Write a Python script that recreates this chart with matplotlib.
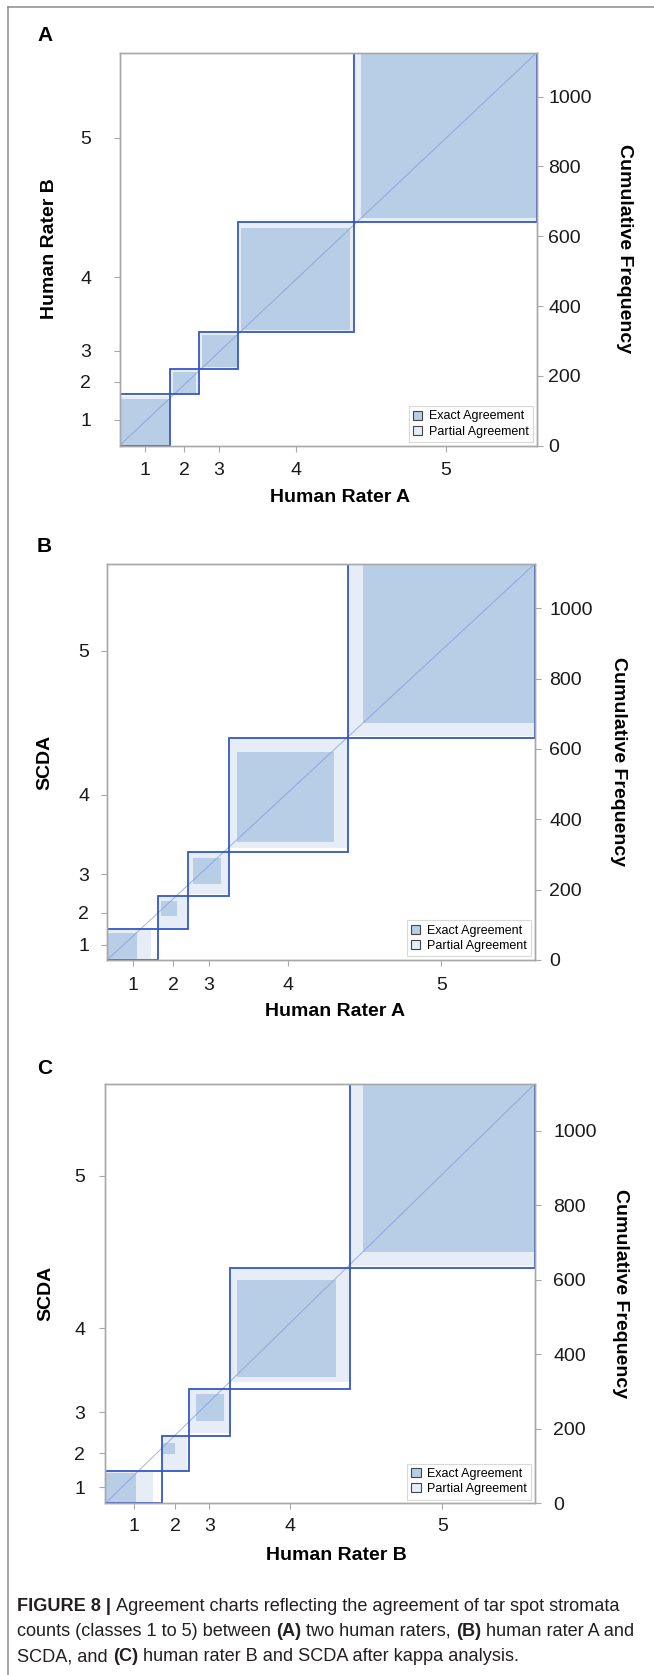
import numpy as np
import matplotlib
matplotlib.use('Agg')
import matplotlib.pyplot as plt
from matplotlib.patches import Rectangle, Patch
from matplotlib.lines import Line2D

plt.rcParams['font.family'] = ['Liberation Sans', 'DejaVu Sans']

categories = ['1', '2', '3', '4', '5']
freqTicks = [0, 200, 400, 600, 800, 1000]

# contingency tables, rows = rater on y axis, columns = rater on x axis
tableA = [[133, 10, 3, 2, 0],
          [2, 62, 7, 0, 0],
          [0, 7, 92, 6, 2],
          [0, 0, 5, 292, 17],
          [0, 0, 0, 13, 473]]
tableB = [[78, 7, 2, 0, 0],
          [38, 42, 11, 3, 0],
          [8, 28, 73, 17, 1],
          [8, 2, 18, 256, 40],
          [3, 0, 3, 37, 451]]
tableC = [[80, 3, 3, 1, 0],
          [44, 32, 16, 2, 0],
          [7, 32, 72, 15, 1],
          [13, 4, 14, 260, 33],
          [4, 0, 2, 36, 452]]

panelNames = ['A', 'B', 'C']
xLabels = ['Human Rater A', 'Human Rater A', 'Human Rater B']
yLabels = ['Human Rater B', 'SCDA', 'SCDA']

exactColor = '#B8CDE6'
partialColor = '#E6EDF7'
boxColor = '#3557C4'
diagColor = '#7F9AD8'
frameColor = '#A8A8A8'

W, H = 654, 1675
fig = plt.figure(figsize=(W / 100, H / 100), dpi=100)

# layout in pixels: axes box, label centres, tick pads
layout = [
    dict(box=(119.5, 52.7, 536.7, 445.7), xlab=(340, 498), ylab=(50, 249), rlab=(625, 249),
         letter=(37, 35.5), lpad=16, rpad=3.8, bpad=7),
    dict(box=(107.1, 564, 534.6, 960), xlab=(335, 1011.7), ylab=(44.4, 762), rlab=(619, 762),
         letter=(37, 547), lpad=8.3, rpad=6, bpad=7.4),
    dict(box=(105.4, 1083.7, 535, 1503.3), xlab=(336.5, 1555), ylab=(45.4, 1293.5), rlab=(620, 1293.5),
         letter=(37, 1068), lpad=10, rpad=8.6, bpad=5.8),
]


def fx(x):
    return x / W


def fy(y):
    return 1 - y / H


def agreementChart(ax, table):
    n = np.array(table, dtype=float)
    colTot = n.sum(axis=0)
    rowTot = n.sum(axis=1)
    N = n.sum()
    X = np.concatenate([[0], np.cumsum(colTot)])
    Y = np.concatenate([[0], np.cumsum(rowTot)])
    k = len(colTot)
    for i in range(k):
        # partial agreement = diagonal cell plus its neighbours
        lo, hi = max(i - 1, 0), min(i + 1, k - 1)
        ax.add_patch(Rectangle((X[i] + n[:lo, i].sum(), Y[i] + n[i, :lo].sum()),
                               n[lo:hi + 1, i].sum(), n[i, lo:hi + 1].sum(),
                               fc=partialColor, ec='none', zorder=1))
        # exact agreement square
        ax.add_patch(Rectangle((X[i] + n[:i, i].sum(), Y[i] + n[i, :i].sum()),
                               n[i, i], n[i, i], fc=exactColor, ec='none', zorder=1.1))
    for i in range(k):
        ax.add_patch(Rectangle((X[i], Y[i]), colTot[i], rowTot[i], fc='none',
                               ec=boxColor, lw=1.3, zorder=2))
    ax.plot([0, N], [0, N], color=diagColor, lw=0.7, alpha=0.75, zorder=1.5)
    ax.set_xlim(0, N)
    ax.set_ylim(0, N)
    ax.set_xticks((X[:-1] + X[1:]) / 2)
    ax.set_xticklabels(categories)
    ax.set_yticks((Y[:-1] + Y[1:]) / 2)
    ax.set_yticklabels(categories)
    return N


tables = [tableA, tableB, tableC]
for p in range(3):
    L = layout[p]
    l, t, r, b = L['box']
    ax = fig.add_axes([fx(l), fy(b), (r - l) / W, (b - t) / H])
    N = agreementChart(ax, tables[p])
    for s in ax.spines.values():
        s.set_color(frameColor)
        s.set_linewidth(1.0)
        s.set_zorder(3)
    ax.tick_params(axis='both', colors=frameColor, labelcolor='#1a1a1a', labelsize=14,
                   length=4.5, width=0.8)
    ax.tick_params(axis='y', pad=L['lpad'])
    ax.tick_params(axis='x', pad=L['bpad'])

    ax2 = ax.twinx()
    ax2.set_ylim(0, N)
    ax2.set_yticks(freqTicks)
    for s in ax2.spines.values():
        s.set_color(frameColor)
        s.set_linewidth(1.0)
    ax2.tick_params(axis='y', colors=frameColor, labelcolor='#1a1a1a', labelsize=14,
                    length=4.5, width=0.8, pad=L['rpad'])

    handles = [Patch(fc=exactColor, ec='#444444', lw=0.8, label='Exact Agreement'),
               Patch(fc=partialColor, ec='#444444', lw=0.8, label='Partial Agreement')]
    leg = ax2.legend(handles=handles, loc='lower right', fontsize=9, frameon=True,
                     fancybox=False, edgecolor='#D0D0D0', handlelength=0.75, handleheight=0.75,
                     handletextpad=0.5, borderpad=0.35, labelspacing=0.25, borderaxespad=0.3)
    leg.get_frame().set_linewidth(0.8)

    fig.text(fx(L['xlab'][0]), fy(L['xlab'][1]), xLabels[p], fontsize=14, fontweight='bold',
             ha='center', va='center')
    fig.text(fx(L['ylab'][0]), fy(L['ylab'][1]), yLabels[p], fontsize=14, fontweight='bold',
             ha='center', va='center', rotation=90)
    fig.text(fx(L['rlab'][0]), fy(L['rlab'][1]), 'Cumulative Frequency', fontsize=14,
             fontweight='bold', ha='center', va='center', rotation=270)
    fig.text(fx(L['letter'][0]), fy(L['letter'][1]), panelNames[p], fontsize=15,
             fontweight='bold', ha='left', va='center')

# outer border (top and left)
fig.add_artist(Line2D([fx(7.5), 1], [fy(6.5), fy(6.5)], color='#8C8C8C', lw=1.1))
fig.add_artist(Line2D([fx(7.5), fx(7.5)], [0, fy(6.5)], color='#8C8C8C', lw=1.1))

# caption with bold parts
captionLines = [
    [('FIGURE 8 |', True), ('Agreement charts reflecting the agreement of tar spot stromata', False)],
    [('counts (classes 1 to 5) between', False), ('(A)', True), ('two human raters,', False),
     ('(B)', True), ('human rater A and', False)],
    [('SCDA, and', False), ('(C)', True), ('human rater B and SCDA after kappa analysis.', False)],
]
capBase = [1611, 1636, 1661]
renderer = fig.canvas.get_renderer()


def textWidth(s, size, bold=False):
    t = fig.text(0, 0, s, fontsize=size, fontweight='bold' if bold else 'normal')
    w = t.get_window_extent(renderer).width
    t.remove()
    return w


def lineWidth(parts, size):
    sw = textWidth('x x', size) - textWidth('xx', size)
    return sum(textWidth(s, size, bd) for s, bd in parts) + sw * (len(parts) - 1)


# fit the second caption line to its width in the reference
capSize = 14 * 625 / lineWidth(captionLines[1], 14)
spaceW = textWidth('x x', capSize) - textWidth('xx', capSize)
for line, yb in zip(captionLines, capBase):
    x = 17
    for s, bold in line:
        t = fig.text(fx(x), fy(yb), s, fontsize=capSize, color='#231F20',
                     fontweight='bold' if bold else 'normal', ha='left', va='baseline')
        x += t.get_window_extent(renderer).width + spaceW

fig.savefig('out.png', dpi=100)
